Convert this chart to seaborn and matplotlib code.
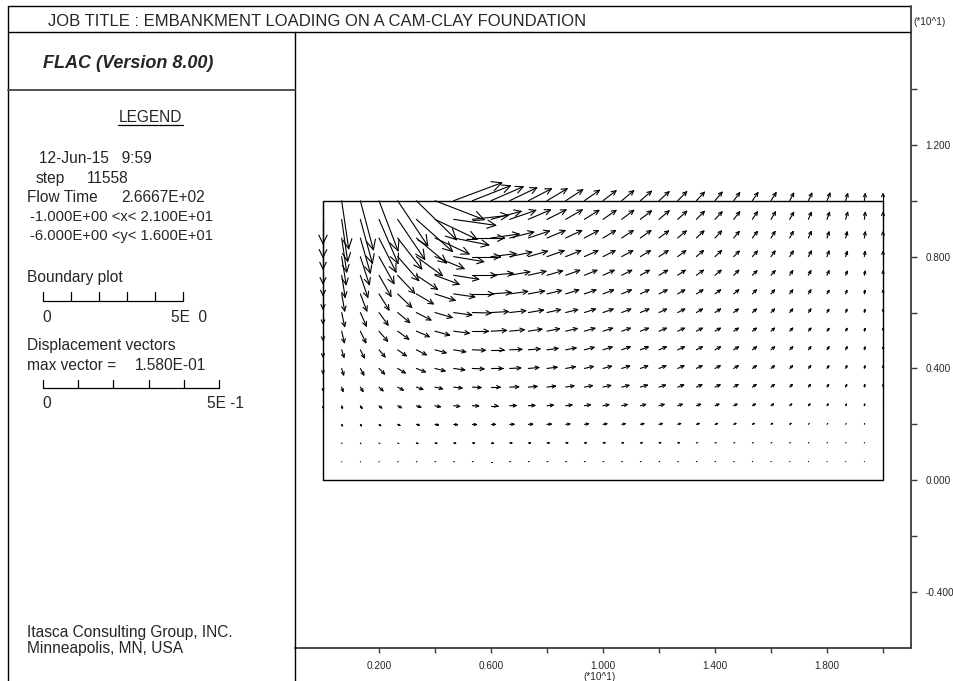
import numpy as np
import matplotlib
matplotlib.use("Agg")
import matplotlib.pyplot as plt
from matplotlib.collections import LineCollection
from matplotlib.lines import Line2D
import seaborn as sns

# ---------------- data ----------------
GRID_W, GRID_H = 20.0, 10.0      # model size (m)
NZX, NZY = 30, 15                # zones in x and y

# horizontal displacement (mm) at grid points, rows from top (y=10) to bottom (y=0)
ux_mm = [
    [0, 19.8, 36.8, 53.8, 85.0, 113.3, 138.8, 136.0, 107.7, 90.7, 76.5, 65.2, 56.7, 48.2, 42.5, 36.8, 34.0, 31.2, 28.3, 25.5, 22.7, 19.8, 17.0, 15.6, 14.2, 11.3, 9.9, 8.5, 5.7, 2.8, 0],
    [0, 17.0, 34.0, 53.8, 76.5, 102.0, 119.0, 119.0, 102.0, 85.0, 73.7, 62.3, 53.8, 46.7, 41.1, 36.8, 34.0, 31.2, 28.3, 25.5, 22.7, 19.8, 17.0, 14.2, 12.7, 11.3, 8.5, 7.1, 5.7, 2.8, 0],
    [0, 14.2, 28.3, 48.2, 68.0, 85.0, 96.3, 99.2, 90.7, 79.3, 68.0, 59.5, 51.0, 45.3, 39.7, 35.4, 32.6, 29.7, 26.9, 24.1, 21.2, 18.4, 15.6, 14.2, 11.3, 9.9, 8.5, 5.7, 4.2, 2.8, 0],
    [0, 12.7, 25.5, 42.5, 59.5, 73.7, 82.2, 85.0, 79.3, 70.8, 62.3, 53.8, 48.2, 42.5, 38.2, 34.0, 31.2, 28.3, 25.5, 22.7, 19.8, 18.4, 15.6, 14.2, 11.3, 9.9, 8.5, 5.7, 4.2, 2.3, 0],
    [0, 9.9, 21.2, 34.0, 48.2, 59.5, 68.0, 70.8, 68.0, 62.3, 56.7, 49.6, 43.9, 39.7, 35.4, 31.2, 28.3, 25.5, 24.1, 21.2, 19.8, 17.0, 14.2, 12.7, 11.3, 8.5, 7.1, 5.7, 4.2, 2.3, 0],
    [0, 8.5, 18.4, 28.3, 39.7, 48.2, 56.7, 59.5, 59.5, 56.7, 51.0, 45.3, 41.1, 36.8, 32.6, 29.7, 26.9, 24.1, 22.7, 19.8, 18.4, 15.6, 14.2, 11.3, 9.9, 8.5, 7.1, 5.7, 3.4, 1.7, 0],
    [0, 8.5, 17.0, 25.5, 34.0, 41.1, 48.2, 51.0, 52.4, 49.6, 45.3, 42.5, 38.2, 34.0, 31.2, 28.3, 25.5, 24.1, 21.2, 19.8, 17.0, 15.6, 12.7, 11.3, 9.9, 8.5, 7.1, 5.1, 3.4, 1.7, 0],
    [0, 7.6, 15.6, 24.1, 31.2, 36.8, 41.1, 43.9, 45.3, 43.9, 41.1, 38.2, 35.4, 32.6, 29.7, 26.9, 24.6, 22.7, 20.7, 19.0, 17.0, 15.0, 13.3, 11.3, 9.9, 8.5, 7.1, 5.7, 4.0, 2.0, 0],
    [0, 6.5, 11.3, 17.0, 24.1, 28.3, 31.2, 34.0, 36.8, 36.0, 34.6, 32.9, 31.2, 29.2, 27.5, 25.5, 23.8, 22.1, 20.4, 18.7, 17.0, 15.3, 13.6, 11.9, 10.2, 8.5, 7.1, 5.7, 4.0, 2.0, 0],
    [0, 5.7, 9.9, 15.6, 21.2, 25.5, 28.3, 31.2, 32.6, 32.6, 31.2, 29.7, 28.3, 26.9, 25.5, 23.8, 22.4, 20.7, 19.3, 17.6, 15.9, 14.4, 12.7, 11.3, 9.6, 8.2, 6.8, 5.1, 3.4, 1.7, 0],
    [0, 3.7, 7.6, 11.3, 15.6, 18.4, 21.2, 23.5, 24.6, 25.5, 25.5, 24.6, 24.1, 23.2, 22.7, 21.8, 20.7, 19.8, 18.4, 17.0, 15.6, 14.2, 12.2, 10.5, 9.1, 7.4, 5.9, 4.5, 2.8, 1.4, 0],
    [0, 2.0, 4.8, 7.6, 10.5, 12.7, 15.0, 17.0, 17.8, 18.4, 18.4, 18.4, 17.8, 17.6, 17.0, 16.4, 15.6, 15.0, 14.2, 13.0, 11.9, 10.8, 9.3, 8.2, 7.1, 5.7, 4.5, 3.4, 2.3, 1.1, 0],
    [0, 1.7, 3.1, 4.8, 6.5, 8.2, 9.6, 10.8, 11.6, 12.2, 12.2, 12.2, 11.9, 11.6, 11.3, 10.8, 10.2, 9.9, 9.3, 8.5, 7.9, 7.1, 6.2, 5.4, 4.5, 3.7, 3.0, 2.3, 1.4, 0.7, 0],
    [0, 0.8, 1.7, 2.5, 3.4, 4.2, 5.1, 5.7, 5.9, 6.2, 6.2, 6.2, 6.2, 5.9, 5.7, 5.7, 5.4, 5.1, 4.8, 4.5, 4.0, 3.7, 3.1, 2.8, 2.3, 2.0, 1.6, 1.1, 0.8, 0.4, 0],
    [0, 0.3, 0.7, 1.0, 1.4, 1.7, 2.0, 2.1, 2.3, 2.4, 2.4, 2.4, 2.4, 2.3, 2.3, 2.1, 2.1, 2.0, 1.8, 1.7, 1.6, 1.4, 1.3, 1.1, 1.0, 0.8, 0.7, 0.6, 0.3, 0.1, 0],
    [0] * 31,
]

# vertical displacement (mm), same layout
uy_mm = [
    [-121.8, -136.0, -138.8, -141.7, -127.5, -110.5, -53.8, 51.0, 42.5, 39.7, 36.8, 34.0, 34.0, 31.2, 29.7, 28.3, 28.3, 26.9, 25.5, 25.5, 24.1, 24.1, 22.7, 22.7, 22.7, 21.2, 21.2, 21.2, 19.8, 19.8, 19.8],
    [-107.7, -119.0, -124.7, -124.7, -113.3, -90.7, -56.7, -17.0, 11.3, 22.7, 25.5, 26.9, 26.9, 26.9, 25.5, 25.5, 25.5, 24.1, 24.1, 22.7, 22.7, 21.2, 21.2, 21.2, 21.2, 19.8, 19.8, 19.8, 19.8, 19.8, 19.8],
    [-87.8, -96.3, -99.2, -96.3, -87.8, -70.8, -45.3, -19.8, 0, 11.3, 17.0, 19.8, 21.2, 21.2, 21.2, 21.2, 21.2, 21.2, 19.8, 19.8, 19.8, 19.8, 18.4, 18.4, 18.4, 18.4, 18.4, 17.0, 17.0, 17.0, 17.0],
    [-76.5, -79.3, -79.3, -76.5, -68.0, -53.8, -34.0, -14.2, 0, 8.5, 12.7, 15.6, 17.0, 17.0, 17.0, 17.0, 17.0, 17.0, 17.0, 17.0, 17.0, 17.0, 15.6, 15.6, 15.6, 15.6, 15.6, 15.6, 14.2, 14.2, 14.2],
    [-56.7, -62.3, -62.3, -59.5, -51.0, -39.7, -25.5, -11.3, 0, 5.7, 9.9, 11.3, 12.7, 14.2, 14.2, 14.2, 14.2, 14.2, 14.2, 14.2, 14.2, 14.2, 14.2, 12.7, 12.7, 12.7, 12.7, 12.7, 11.3, 11.3, 11.3],
    [-42.5, -48.2, -48.2, -45.3, -38.2, -28.3, -18.4, -8.5, 0, 4.2, 7.1, 8.5, 9.9, 11.3, 11.3, 11.3, 11.3, 11.3, 11.3, 11.3, 11.3, 11.3, 11.3, 11.3, 11.3, 11.3, 11.3, 9.9, 9.9, 9.9, 9.9],
    [-31.2, -39.7, -38.2, -35.4, -28.3, -21.2, -14.2, -7.1, -1.4, 2.8, 5.1, 7.1, 8.5, 8.5, 9.9, 9.9, 9.9, 9.9, 9.9, 9.9, 9.9, 9.9, 9.9, 9.9, 9.9, 9.9, 9.9, 9.1, 9.1, 8.5, 8.5],
    [-25.5, -32.6, -32.6, -28.3, -22.7, -15.6, -11.3, -5.7, 0, 2.3, 4.2, 5.7, 7.1, 7.6, 8.5, 8.5, 8.5, 8.5, 8.5, 8.5, 8.5, 8.5, 8.5, 8.5, 8.5, 8.5, 8.5, 7.9, 7.9, 7.6, 7.6],
    [-19.8, -21.2, -22.7, -19.8, -17.0, -14.2, -8.5, -5.7, -1.4, 0, 1.4, 2.8, 4.2, 5.7, 7.1, 7.9, 8.5, 8.5, 8.5, 8.5, 8.5, 8.5, 8.5, 8.5, 8.5, 8.5, 8.5, 8.5, 8.5, 7.9, 7.6],
    [-14.2, -18.4, -18.4, -15.6, -12.7, -9.9, -7.1, -4.2, -1.4, 0, 1.4, 2.8, 3.7, 4.8, 5.7, 6.5, 7.1, 7.1, 7.6, 7.6, 7.6, 7.6, 7.6, 7.6, 7.6, 7.6, 7.6, 7.4, 7.4, 7.1, 7.1],
    [-9.3, -12.2, -12.2, -10.5, -8.5, -6.5, -4.8, -2.8, -1.4, 0, 0.8, 2.0, 2.8, 3.7, 4.2, 4.8, 5.1, 5.7, 5.7, 6.2, 6.5, 6.5, 7.1, 7.1, 7.1, 7.4, 7.4, 7.4, 7.1, 6.8, 6.5],
    [-5.7, -7.6, -7.6, -6.5, -5.7, -4.2, -3.1, -2.0, -0.8, 0, 0.6, 1.1, 1.7, 2.3, 2.8, 3.1, 3.4, 3.7, 4.0, 4.2, 4.2, 4.5, 4.5, 4.8, 4.8, 4.8, 4.8, 4.8, 4.5, 4.5, 4.2],
    [-2.8, -4.2, -4.2, -3.7, -3.1, -2.3, -1.7, -1.1, -0.6, 0, 0.3, 0.6, 0.8, 1.3, 1.6, 1.8, 2.0, 2.1, 2.3, 2.4, 2.5, 2.5, 2.7, 2.7, 2.8, 2.8, 2.8, 2.8, 2.7, 2.5, 2.5],
    [-1.4, -2.0, -2.0, -1.7, -1.4, -1.1, -0.8, -0.6, -0.3, 0, 0.1, 0.3, 0.4, 0.6, 0.7, 0.8, 1.0, 1.0, 1.1, 1.1, 1.3, 1.3, 1.3, 1.4, 1.4, 1.4, 1.4, 1.4, 1.4, 1.3, 1.3],
    [-0.6, -0.8, -0.8, -0.7, -0.6, -0.4, -0.3, -0.2, -0.1, 0, 0.1, 0.1, 0.2, 0.2, 0.3, 0.3, 0.3, 0.4, 0.4, 0.4, 0.5, 0.5, 0.5, 0.5, 0.5, 0.5, 0.5, 0.5, 0.5, 0.5, 0.5],
    [0] * 31,
]

boundary_x = [0, 20, 20, 0, 0]
boundary_y = [0, 0, 10, 10, 0]

x_ticks_major = [2, 6, 10, 14, 18]
x_ticks_minor = [4, 8, 12, 16, 20]
x_ticklabels = ["0.200", "0.600", "1.000", "1.400", "1.800"]
y_ticks_major = [-4, 0, 4, 8, 12]
y_ticks_minor = [-2, 2, 6, 10, 14]
y_ticklabels = ["-0.400", "0.000", "0.400", "0.800", "1.200"]

XLIM = (-1.0, 21.0)
YLIM = (-6.0, 16.0)

title_text = "JOB TITLE : EMBANKMENT LOADING ON A CAM-CLAY FOUNDATION"
version_text = "FLAC (Version 8.00)"
date_text = "12-Jun-15   9:59"
step_value = "11558"
flow_time = "2.6667E+02"
x_range_text = "-1.000E+00 <x< 2.100E+01"
y_range_text = "-6.000E+00 <y< 1.600E+01"
max_vector_text = "1.580E-01"
BOUNDARY_BAR_M = 5.0
VECTOR_BAR_M = 0.5
VEC_UNITS_PER_M = 12.62   # plot length (model units) per metre of displacement

# ---------------- figure ----------------
W, H, DPI = 954, 681, 100
sns.set_style("white")
plt.rcParams['font.family'] = ['Liberation Sans', 'DejaVu Sans']

fig = plt.figure(figsize=(W / DPI, H / DPI), dpi=DPI)
fig.patch.set_facecolor("white")


def fx(px):
    return px / W


def fy(py):
    return 1.0 - py / H


AX_L, AX_R, AX_T, AX_B = 295, 911, 33, 648
ax = fig.add_axes([fx(AX_L), fy(AX_B), (AX_R - AX_L) / W, (AX_B - AX_T) / H])
ax.set_xlim(*XLIM)
ax.set_ylim(*YLIM)
ax.set_facecolor("white")
PX_PER_UNIT = (AX_R - AX_L) / (XLIM[1] - XLIM[0])

# boundary
sns.lineplot(x=boundary_x, y=boundary_y, sort=False, estimator=None,
             color="black", linewidth=1.0, ax=ax)

# displacement vectors (tail at grid point, open V heads)
xs = np.linspace(0, GRID_W, NZX + 1)
ys = np.linspace(GRID_H, 0, NZY + 1)
segs = []
half = np.radians(26)
for k in range(len(ux_mm)):
    for i in range(len(ux_mm[k])):
        dx = ux_mm[k][i] / 1000.0 * VEC_UNITS_PER_M
        dy = uy_mm[k][i] / 1000.0 * VEC_UNITS_PER_M
        L = np.hypot(dx, dy)
        if L == 0:
            continue
        x0, y0 = xs[i], ys[k]
        x1, y1 = x0 + dx, y0 + dy
        segs.append([(x0, y0), (x1, y1)])
        Lpx = L * PX_PER_UNIT
        if Lpx < 1.5:
            continue
        hpx = min(0.17 * Lpx + 2.2, 0.6 * Lpx)
        h = hpx / PX_PER_UNIT
        ang = np.arctan2(dy, dx) + np.pi
        for s in (1, -1):
            a = ang + s * half
            segs.append([(x1, y1), (x1 + h * np.cos(a), y1 + h * np.sin(a))])
lc = LineCollection(segs, colors="black", linewidths=0.8, capstyle="round")
ax.add_collection(lc)

# axes styling
for side in ("left", "top"):
    ax.spines[side].set_visible(False)
for side in ("right", "bottom"):
    ax.spines[side].set_visible(True)
    ax.spines[side].set_color("#3a3a3a")
    ax.spines[side].set_linewidth(1.3)

ax.yaxis.tick_right()
ax.set_yticks(y_ticks_major)
ax.set_yticklabels(y_ticklabels)
ax.set_yticks(y_ticks_minor, minor=True)
ax.set_xticks(x_ticks_major)
ax.set_xticklabels(x_ticklabels)
ax.set_xticks(x_ticks_minor, minor=True)
ax.tick_params(axis="y", which="both", direction="out", length=4.3, width=1.0,
               color="#3a3a3a", labelsize=7.2, pad=6, left=False, right=True,
               labelleft=False, labelright=True)
ax.tick_params(axis="x", which="both", direction="out", length=3.6, width=1.0,
               color="#3a3a3a", labelsize=7.2, pad=6, top=False, bottom=True)
ax.grid(False)

# ---------------- frame lines ----------------
def fline(x0, y0, x1, y1, lw=1.0, color="black"):
    fig.add_artist(Line2D([fx(x0), fx(x1)], [fy(y0), fy(y1)],
                          transform=fig.transFigure, color=color, lw=lw))


fline(8, 6, 911, 6)
fline(8, 6, 8, 681)
fline(8, 32, 911, 32)
fline(295, 32, 295, 681)
fline(8, 90, 295, 90, lw=1.3, color="#444444")
fline(911, 6, 911, 33, lw=1.3, color="#3a3a3a")

# ---------------- texts ----------------
def ftext(x, y, s, **kw):
    kw.setdefault("fontsize", 11.2)
    kw.setdefault("va", "baseline")
    kw.setdefault("ha", "left")
    fig.text(fx(x), fy(y), s, **kw)


ftext(48, 26.5, title_text, fontsize=12)
ftext(913, 25, "(*10^1)", fontsize=7.2)
ftext(600, 680, "(*10^1)", fontsize=7.2, ha="center")
ftext(43, 68, version_text, fontsize=13, fontweight="bold", fontstyle="italic")
ftext(150.5, 121.5, "LEGEND", ha="center")
fline(118, 125, 183, 125, lw=0.9)
ftext(39.3, 163, date_text)
ftext(35.7, 183, "step")
ftext(87.3, 183, step_value)
ftext(26.7, 202, "Flow Time")
ftext(121.7, 202, flow_time)
ftext(30, 221, x_range_text, fontsize=10.6)
ftext(30, 240, y_range_text, fontsize=10.6)

ftext(26.7, 282, "Boundary plot")
bar1_len = BOUNDARY_BAR_M * PX_PER_UNIT
fline(42.7, 300.7, 42.7 + bar1_len, 300.7, lw=0.9)
for t in range(6):
    xx = 42.7 + bar1_len * t / 5
    fline(xx, 292, xx, 300.7, lw=0.9)
ftext(42.7, 321.5, "0")
ftext(171, 321.5, "5E  0")

ftext(26.7, 350, "Displacement vectors")
ftext(26.7, 370, "max vector =")
ftext(135, 370, max_vector_text)
bar2_len = VECTOR_BAR_M * VEC_UNITS_PER_M * PX_PER_UNIT
fline(42.7, 388.3, 42.7 + bar2_len, 388.3, lw=0.9)
for t in range(6):
    xx = 42.7 + bar2_len * t / 5
    fline(xx, 380, xx, 388.3, lw=0.9)
ftext(42.7, 408.3, "0")
ftext(206.7, 408.3, "5E -1")

ftext(26.7, 636.7, "Itasca Consulting Group, INC.")
ftext(26.7, 652.7, "Minneapolis, MN, USA")

fig.savefig("out.png", dpi=DPI, facecolor="white")
